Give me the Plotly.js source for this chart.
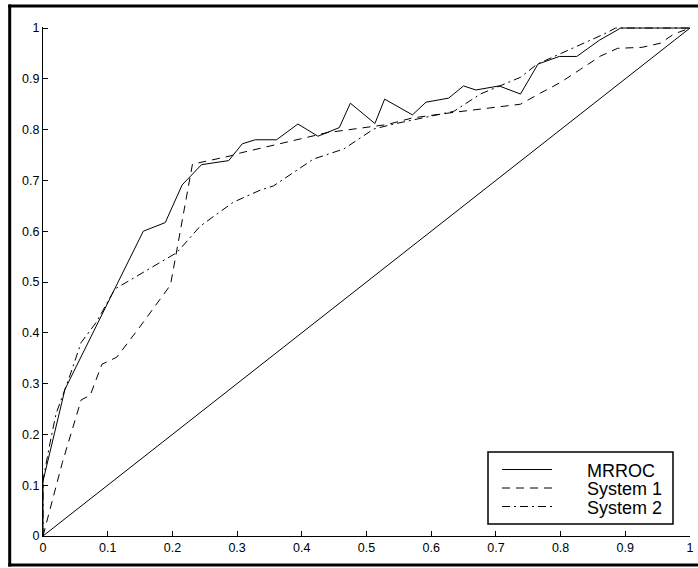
<!DOCTYPE html>
<html>
<head>
<meta charset="utf-8">
<script src="https://cdn.plot.ly/plotly-3.0.1.min.js"></script>
<style>
  html, body { margin: 0; padding: 0; background: #ffffff; }
  #chart { width: 698px; height: 568px; }
</style>
</head>
<body>
<div id="chart"></div>
<script>
// ---- data ----
const tickVals = [0, 0.1, 0.2, 0.3, 0.4, 0.5, 0.6, 0.7, 0.8, 0.9, 1];
const tickText = ['0', '0.1', '0.2', '0.3', '0.4', '0.5', '0.6', '0.7', '0.8', '0.9', '1'];

const seriesNames = ['MRROC', 'System 1', 'System 2'];

const mrrocX = [0, 0, 0.034, 0.155, 0.189, 0.215, 0.245, 0.287, 0.308, 0.328, 0.361, 0.394, 0.425, 0.458, 0.475, 0.513, 0.528, 0.571, 0.592, 0.627, 0.650, 0.669, 0.705, 0.738, 0.765, 0.798, 0.825, 0.860, 0.893, 1];
const mrrocY = [0, 0.108, 0.289, 0.600, 0.617, 0.691, 0.731, 0.739, 0.772, 0.780, 0.780, 0.811, 0.787, 0.804, 0.852, 0.812, 0.860, 0.829, 0.854, 0.862, 0.886, 0.878, 0.886, 0.870, 0.929, 0.944, 0.944, 0.976, 1, 1];

const sys1X = [0, 0.008, 0.030, 0.059, 0.073, 0.091, 0.114, 0.147, 0.197, 0.231, 0.250, 0.289, 0.305, 0.361, 0.439, 0.532, 0.571, 0.635, 0.676, 0.738, 0.769, 0.800, 0.831, 0.862, 0.888, 0.926, 0.954, 0.975, 1];
const sys1Y = [0, 0.038, 0.145, 0.268, 0.277, 0.338, 0.352, 0.407, 0.494, 0.732, 0.737, 0.748, 0.754, 0.771, 0.794, 0.810, 0.823, 0.834, 0.840, 0.850, 0.872, 0.893, 0.919, 0.945, 0.960, 0.962, 0.970, 0.988, 1];

const sys2X = [0, 0, 0.011, 0.020, 0.040, 0.059, 0.082, 0.111, 0.207, 0.243, 0.294, 0.336, 0.356, 0.418, 0.465, 0.511, 0.542, 0.635, 0.676, 0.738, 0.764, 0.867, 0.885, 1];
const sys2Y = [0, 0.11, 0.184, 0.240, 0.310, 0.381, 0.420, 0.486, 0.558, 0.610, 0.657, 0.681, 0.689, 0.742, 0.762, 0.801, 0.811, 0.836, 0.870, 0.903, 0.929, 0.988, 1, 1];

const chanceX = [0, 1];
const chanceY = [0, 1];

// ---- styles ----
const dashStyles = ['solid', '8px,6px', '8px,4px,2px,4px'];
const black = '#000000';
const fontFam = 'Liberation Sans, Arial, Helvetica, sans-serif';

const seriesX = [mrrocX, sys1X, sys2X];
const seriesY = [mrrocY, sys1Y, sys2Y];

const traces = seriesNames.map((name, i) => ({
  type: 'scatter',
  mode: 'lines',
  name: name,
  x: seriesX[i],
  y: seriesY[i],
  line: { color: black, width: 1, dash: dashStyles[i] },
  hoverinfo: 'skip'
}));
traces.push({
  type: 'scatter', mode: 'lines', name: 'chance',
  x: chanceX, y: chanceY,
  line: { color: black, width: 1 },
  showlegend: false, hoverinfo: 'skip'
});

// helpers: pixel -> paper
const L = 43, R = 8, T = 27, B = 32, W = 698, H = 568;
const pw = W - L - R, ph = H - T - B;
const px = X => (X - L) / pw;
const py = Y => (H - B - Y) / ph;

const shapes = [];
// outer figure frame (left, top, bottom)
const frame = { color: black, width: 3 };
shapes.push({ type: 'line', xref: 'paper', yref: 'paper', x0: px(9.7), x1: px(9.7), y0: py(4.5), y1: py(566.5), line: frame });
shapes.push({ type: 'line', xref: 'paper', yref: 'paper', x0: px(8.2), x1: px(700), y0: py(6), y1: py(6), line: frame });
shapes.push({ type: 'line', xref: 'paper', yref: 'paper', x0: px(8.2), x1: px(700), y0: py(565), y1: py(565), line: frame });

// legend box
shapes.push({ type: 'rect', xref: 'paper', yref: 'paper', x0: px(488), x1: px(673), y0: py(524), y1: py(452),
  line: { color: black, width: 1.5 }, fillcolor: '#ffffff', layer: 'above' });
const rowsY = [469.5, 488, 506.5];
const annotations = [];
seriesNames.forEach((name, i) => {
  shapes.push({ type: 'line', xref: 'paper', yref: 'paper', x0: px(502), x1: px(552), y0: py(rowsY[i]), y1: py(rowsY[i]),
    line: { color: black, width: 1, dash: dashStyles[i] }, layer: 'above' });
  annotations.push({ xref: 'paper', yref: 'paper', x: px(585), y: py(rowsY[i] + 1), xanchor: 'left', yanchor: 'middle',
    text: name, showarrow: false, font: { family: fontFam, size: 18, color: black } });
});

const axisCommon = {
  tickmode: 'array', tickvals: tickVals, ticktext: tickText,
  ticks: 'inside', ticklen: 5, tickwidth: 1, tickcolor: black,
  showline: true, linecolor: black, linewidth: 1, mirror: false,
  showgrid: false, zeroline: false, fixedrange: true,
  tickfont: { family: fontFam, size: 12.5, color: black }
};

const layout = {
  width: W, height: H,
  margin: { l: L, r: R, t: T, b: B, pad: 0 },
  paper_bgcolor: '#ffffff', plot_bgcolor: '#ffffff',
  showlegend: false,
  xaxis: Object.assign({}, axisCommon, { range: [0, 1] }),
  yaxis: Object.assign({}, axisCommon, { range: [0, 1.002] }),
  shapes: shapes,
  annotations: annotations
};

Plotly.newPlot('chart', traces, layout, { staticPlot: true, displayModeBar: false });
</script>
</body>
</html>
